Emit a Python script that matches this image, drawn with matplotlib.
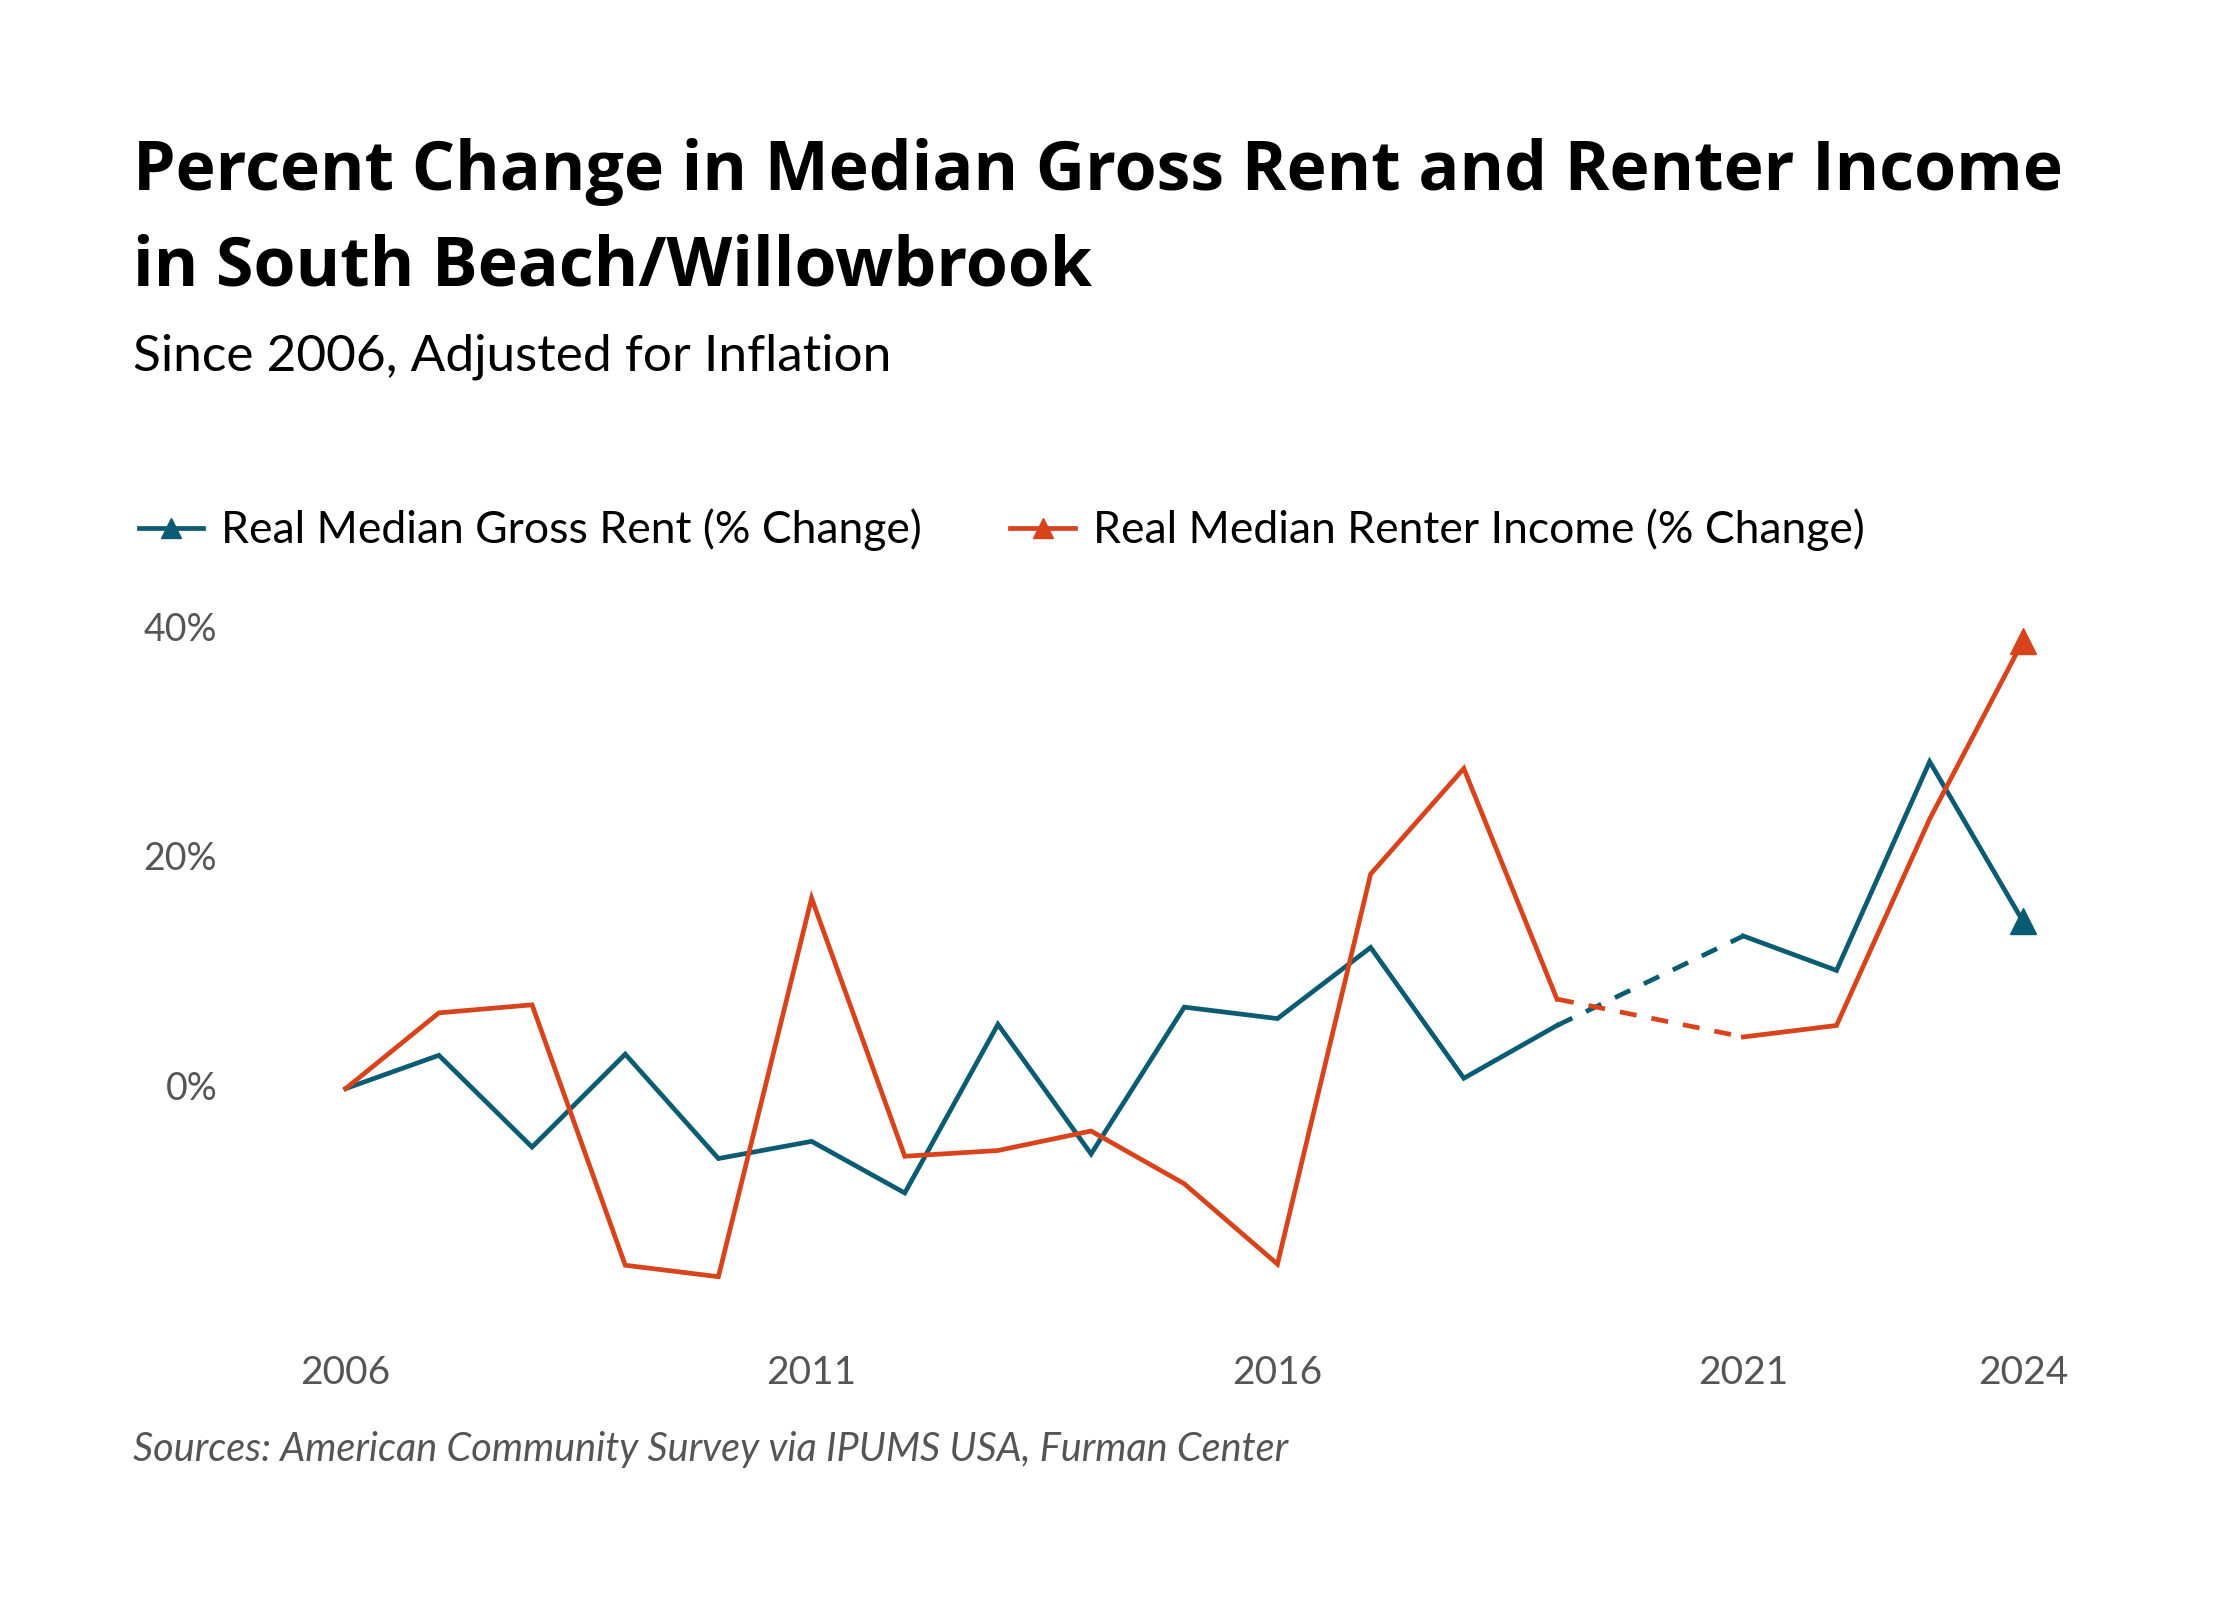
import numpy as np
import matplotlib
matplotlib.use("Agg")
import matplotlib.pyplot as plt
from matplotlib.lines import Line2D

# ---- data ----
years = [2006, 2007, 2008, 2009, 2010, 2011, 2012, 2013, 2014, 2015,
         2016, 2017, 2018, 2019, 2020, 2021, 2022, 2023, 2024]
rent_change = [0.0, 2.9, -5.1, 3.0, -6.1, -4.6, -9.1, 5.6, -5.7, 7.1,
               6.1, 12.3, 0.9, 5.5, np.nan, 13.3, 10.3, 28.5, 14.6]
income_change = [0.0, 6.6, 7.3, -15.4, -16.4, 16.6, -5.9, -5.4, -3.7, -8.3,
                 -15.3, 18.7, 27.9, 7.8, np.nan, 4.5, 5.5, 23.5, 39.0]
series_labels = ["Real Median Gross Rent (% Change)",
                 "Real Median Renter Income (% Change)"]
xtick_years = [2006, 2011, 2016, 2021, 2024]
ytick_vals = [0, 20, 40]
ytick_labels = ["0%", "20%", "40%"]
title_lines = ["Percent Change in Median Gross Rent and Renter Income",
               "in South Beach/Willowbrook"]
subtitle = "Since 2006, Adjusted for Inflation"
source = "Sources: American Community Survey via IPUMS USA, Furman Center"

BLUE = "#0b5b72"
ORANGE = "#d8431b"
GRAY = "#555555"

plt.rcParams['font.family'] = ['Lato', 'DejaVu Sans']

W, H = 2240, 1600
S = 2240 / 1568  # reference-view scale
fig = plt.figure(figsize=(W / 100, H / 100), dpi=100)
fig.patch.set_facecolor("white")

def fx(px):
    return px * S / W

def fy(py):
    return 1 - py * S / H

# axes placement (reference-view pixel geometry)
x0_px, x1_px = 242, 1416
ymin, ymax = -20, 42
zero_px, per_pct = 762, 8.03
bot_px = zero_px - ymin * per_pct
top_px = zero_px - ymax * per_pct
ax = fig.add_axes([fx(x0_px), fy(bot_px), fx(x1_px) - fx(x0_px), fy(top_px) - fy(bot_px)])
ax.set_xlim(years[0], years[-1])
ax.set_ylim(ymin, ymax)
ax.axis("off")

yrs = np.array(years, dtype=float)
LW = 3.4
for vals, col in [(np.array(rent_change), BLUE), (np.array(income_change), ORANGE)]:
    ax.plot(yrs, vals, color=col, lw=LW, solid_joinstyle="miter", clip_on=False)
    nan_idx = np.where(np.isnan(vals))[0]
    for i in nan_idx:
        ax.plot([yrs[i - 1], yrs[i + 1]], [vals[i - 1], vals[i + 1]],
                color=col, lw=LW, ls=(0, (3.6, 3.2)), dash_capstyle="butt",
                clip_on=False)
    ax.plot(yrs[-1], vals[-1], marker="^", ms=19, color=col, mec=col,
            clip_on=False, zorder=5)

# y tick labels
for v, lab in zip(ytick_vals, ytick_labels):
    fig.text(fx(152), fy(zero_px - v * per_pct), lab, ha="right", va="center",
             fontsize=27, color=GRAY)

# x tick labels
for yr in xtick_years:
    px = x0_px + (yr - years[0]) / (years[-1] - years[0]) * (x1_px - x0_px)
    fig.text(fx(px), fy(961), str(yr), ha="center", va="center",
             fontsize=28, color=GRAY)

# titles
for ln, base in zip(title_lines, [133, 200]):
    fig.text(fx(93), fy(base), ln, ha="left", va="baseline",
             fontsize=49, fontweight="bold", color="black",
             family=["Open Sans", "DejaVu Sans"])
fig.text(fx(93), fy(259), subtitle, ha="left", va="baseline",
         fontsize=37, color="black")

# legend
handles = [Line2D([0], [0], color=BLUE, lw=LW, marker="^", ms=15),
           Line2D([0], [0], color=ORANGE, lw=LW, marker="^", ms=15)]
fig.legend(handles, series_labels, loc="center left",
           bbox_to_anchor=(fx(97), fy(371)), ncol=2, frameon=False,
           fontsize=32, handlelength=1.45, handletextpad=0.4,
           columnspacing=2.0, borderaxespad=0, borderpad=0)

# source
fig.text(fx(93), fy(1015), source, ha="left", va="center",
         fontsize=28.5, style="italic", color=GRAY)

fig.savefig("out.png", dpi=100, facecolor="white")
